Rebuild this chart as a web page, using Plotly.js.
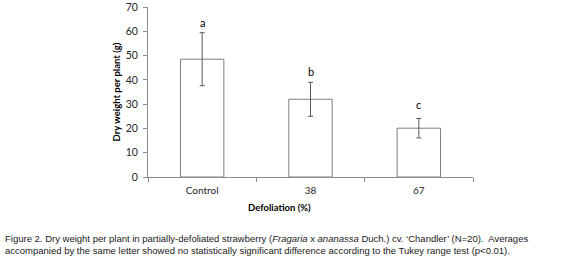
<!DOCTYPE html>
<html>
<head>
<meta charset="utf-8">
<script src="https://cdn.plot.ly/plotly-3.0.1.min.js"></script>
<style>html,body{margin:0;padding:0;background:#fff;}#chart{width:580px;height:263px;}</style>
</head>
<body>
<div id="chart"></div>
<script>
const categories = ["Control", "38", "67"];
const dryWeight = [48.5, 32.0, 20.1];
const stdError = [10.9, 7.0, 4.0];
const letters = ["a", "b", "c"];
const letterY = [63.5, 43.6, 30.0];
const yTicks = [0, 10, 20, 30, 40, 50, 60, 70];

const chartFont = "Lato, 'Open Sans', sans-serif";
const capFont = "'Liberation Sans', Arial, sans-serif";

const trace = {
  type: "bar",
  x: categories,
  y: dryWeight,
  width: 0.4,
  marker: {color: "#ffffff", line: {color: "#7f7f7f", width: 1}},
  error_y: {type: "data", array: stdError, visible: true, color: "#595959", thickness: 1, width: 2.5},
  hoverinfo: "none"
};

const letterAnns = categories.map((c, i) => ({
  x: i, y: letterY[i], xref: "x", yref: "y",
  text: letters[i], showarrow: false, yanchor: "middle",
  font: {family: chartFont, size: 11, color: "#000"}
}));

const layout = {
  width: 580, height: 263,
  margin: {l: 148, r: 107, t: 7, b: 86, pad: 0},
  paper_bgcolor: "#fff", plot_bgcolor: "#fff",
  showlegend: false,
  xaxis: {
    type: "category", tickson: "boundaries", range: [-0.5, 2.5], autorange: false,
    showline: true, linecolor: "#8c8c8c", linewidth: 1,
    ticks: "outside", ticklen: 4, tickcolor: "#8c8c8c",
    tickfont: {family: chartFont, size: 10, color: "#262626"},
    tickangle: 0, ticklabelstandoff: 4,
    showgrid: false, zeroline: false, fixedrange: true
  },
  yaxis: {
    range: [0, 70], autorange: false, tickvals: yTicks,
    showline: true, linecolor: "#8c8c8c", linewidth: 1,
    ticks: "outside", ticklen: 4, tickcolor: "#8c8c8c",
    tickfont: {family: chartFont, size: 10.5, color: "#262626"},
    ticklabelstandoff: 3,
    showgrid: false, zeroline: false, fixedrange: true,
    title: {text: "<b>Dry weight per plant (g)</b>", font: {family: chartFont, size: 9.5, color: "#000"}, standoff: 3}
  },
  annotations: letterAnns.concat([
    {xref: "paper", yref: "paper", x: (279 - 148) / 324.7, y: (177.3 - 208) / 170.6,
     text: "<b>Defoliation (%)</b>", showarrow: false, xanchor: "center", yanchor: "middle",
     font: {family: chartFont, size: 9.5, color: "#000"}},
    {xref: "paper", yref: "paper", x: (3 - 148) / 324.7, y: (177.3 - 239) / 170.6,
     text: "Figure 2. Dry weight per plant in partially-defoliated strawberry (<i>Fragaria</i> x <i>ananassa</i> Duch.) cv. ‘Chandler’ (N=20).  Averages",
     showarrow: false, xanchor: "left", yanchor: "middle",
     font: {family: capFont, size: 9.5, color: "#1a1a1a"}},
    {xref: "paper", yref: "paper", x: (3 - 148) / 324.7, y: (177.3 - 251) / 170.6,
     text: "accompanied by the same letter showed no statistically significant difference according to the Tukey range test (p&lt;0.01).",
     showarrow: false, xanchor: "left", yanchor: "middle",
     font: {family: capFont, size: 9.5, color: "#1a1a1a"}}
  ])
};

Plotly.newPlot("chart", [trace], layout, {staticPlot: true, displayModeBar: false});
</script>
</body>
</html>
